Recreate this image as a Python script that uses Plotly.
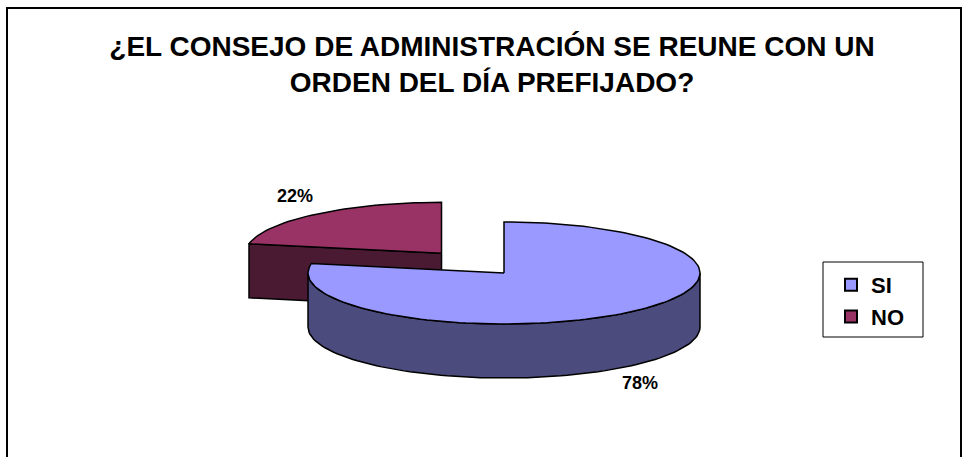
import numpy as np
import plotly.graph_objects as go

# --- data -------------------------------------------------------------
labels = ["SI", "NO"]
values = [78, 22]                     # percent
top_colors = ["#9999FF", "#993366"]
side_colors = ["#4B4B7D", "#4A1A32"]
exploded = [0.0, 0.5]                 # how far each slice is pulled out

title_text = "¿EL CONSEJO DE ADMINISTRACIÓN SE REUNE CON UN<br>ORDEN DEL DÍA PREFIJADO?"

# --- canvas / pie geometry (pixel-like coordinates, y grows downward) --
W, H = 964, 457
CX, CY = 504, 273          # centre of the top ellipse
RX, RY = 196, 51           # ellipse radii (tilted disc)
DEPTH = 54                 # thickness of the disc
FONT = "Liberation Sans, Arial, sans-serif"
label_pos = {"SI": (640, 383), "NO": (295, 196)}
legend_box = (823, 262, 923, 337)


def pt(theta_deg, ox, oy, dz=0.0):
    """Point on the rim at an angle measured clockwise from 12 o'clock."""
    t = np.radians(theta_deg)
    return ox + CX + RX * np.sin(t), oy + CY - RY * np.cos(t) + dz


def arc(a, b, ox, oy, dz=0.0, n=180):
    th = np.linspace(a, b, max(2, int(n * abs(b - a) / 360) + 2))
    x, y = pt(th, ox, oy, dz)
    return list(x), list(y)


fig = go.Figure()
line = dict(color="black", width=1.5)


def poly(xs, ys, color):
    fig.add_trace(go.Scatter(
        x=xs + [xs[0]], y=ys + [ys[0]], mode="lines", fill="toself",
        fillcolor=color, line=line, hoverinfo="skip", showlegend=False))


# slice angular spans from the values
total = sum(values)
spans = []
start = 0.0
for v in values:
    end = start + 360.0 * v / total
    spans.append((start, end))
    start = end

# draw back slices first so nearer ones overlap them
order = sorted(range(len(values)),
               key=lambda i: np.cos(np.radians((spans[i][0] + spans[i][1]) / 2)),
               reverse=True)

for i in order:
    a, b = spans[i]
    mid = np.radians((a + b) / 2)
    ox = RX * np.sin(mid) * exploded[i]
    oy = -RY * np.cos(mid) * exploded[i]
    apex = (CX + ox, CY + oy)

    # radial cut faces that face the viewer
    for ang, normal in ((a, a - 90), (b, b + 90)):
        if np.cos(np.radians(normal)) < -1e-6:
            rx_, ry_ = pt(ang, ox, oy)
            poly([apex[0], rx_, rx_, apex[0]],
                 [apex[1], ry_, ry_ + DEPTH, apex[1] + DEPTH], side_colors[i])

    # outer curved wall on the front half of the disc
    lo, hi = max(a, 90.0), min(b, 270.0)
    if hi > lo:
        tx, ty = arc(lo, hi, ox, oy)
        bx, by = arc(lo, hi, ox, oy, DEPTH)
        poly(tx + bx[::-1], ty + by[::-1], side_colors[i])

    # top face
    tx, ty = arc(a, b, ox, oy)
    poly([apex[0]] + tx, [apex[1]] + ty, top_colors[i])

    lx, ly = label_pos[labels[i]]
    fig.add_annotation(x=lx, y=ly, text=f"<b>{values[i]}%</b>", showarrow=False,
                       font=dict(family=FONT, size=18, color="black"))

# legend entries
for lab, col in zip(labels, top_colors):
    fig.add_trace(go.Scatter(
        x=[None], y=[None], mode="markers", name=f"<b>{lab}</b>",
        marker=dict(symbol="square", size=13, color=col,
                    line=dict(color="black", width=2))))

# chart border
fig.add_shape(type="rect", x0=7, y0=8, x1=961, y1=470,
              line=dict(color="black", width=2), fillcolor="rgba(0,0,0,0)")
# legend frame
fig.add_shape(type="rect", x0=legend_box[0], y0=legend_box[1],
              x1=legend_box[2], y1=legend_box[3],
              line=dict(color="black", width=1), fillcolor="white", layer="below")

fig.update_xaxes(range=[0, W], visible=False, fixedrange=True)
fig.update_yaxes(range=[H, 0], visible=False, fixedrange=True)

fig.update_layout(
    width=W, height=H,
    margin=dict(l=0, r=0, t=0, b=0),
    paper_bgcolor="white", plot_bgcolor="white",
    title=dict(text=f"<b>{title_text}</b>", x=492 / W, xanchor="center",
               y=1 - 56 / H, yanchor="middle",
               font=dict(family=FONT, size=28, color="black")),
    legend=dict(x=831 / W, y=1 - 264 / H, xanchor="left", yanchor="top",
                borderwidth=0, bgcolor="rgba(0,0,0,0)",
                font=dict(family=FONT, size=22, color="black"),
                itemsizing="constant", tracegroupgap=0),
)

fig.write_html("out.html")
